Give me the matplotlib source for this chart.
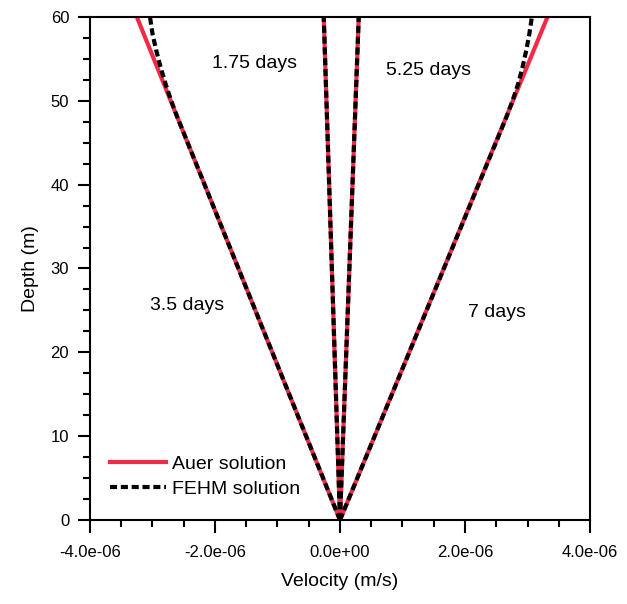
import matplotlib
matplotlib.use('Agg')
import matplotlib.pyplot as plt
from matplotlib.ticker import MultipleLocator, FormatStrFormatter
import numpy as np

plt.rcParams['font.family'] = ['Liberation Sans', 'DejaVu Sans']

# Auer analytical solution (velocity m/s vs depth m)
auer_depth = [0, 60]
auer_175 = [0, -0.26e-6]
auer_35 = [0, -3.25e-6]
auer_525 = [0, 0.30e-6]
auer_7 = [0, 3.32e-6]

# FEHM numerical solution
fehm_depth_in = [0, 60]
fehm_175 = [0, -0.26e-6]
fehm_525 = [0, 0.30e-6]
fehm_depth_out = [0, 48, 50, 52, 54, 56, 58, 60]
fehm_35 = [0, -2.60e-6, -2.70e-6, -2.79e-6, -2.87e-6, -2.94e-6, -3.00e-6, -3.04e-6]
fehm_7 = [0, 2.66e-6, 2.76e-6, 2.85e-6, 2.92e-6, 2.98e-6, 3.03e-6, 3.07e-6]

labels = ['1.75 days', '5.25 days', '3.5 days', '7 days']
label_x = [-1.36e-6, 1.41e-6, -2.45e-6, 2.51e-6]
label_y = [54.4, 53.6, 25.6, 24.8]

red = '#ef2b47'

fig = plt.figure(figsize=(6.27, 6.04), dpi=100)
ax = fig.add_axes([0.1435, 0.139, 0.7975, 0.833])

for v in (auer_175, auer_35, auer_525, auer_7):
  ax.plot(v, auer_depth, color=red, lw=3, zorder=1)
ax.plot([], [], color=red, lw=3, label='Auer solution')

dash = dict(color='black', lw=3, ls=(0, (1.7, 0.9)), zorder=2)
ax.plot(fehm_175, fehm_depth_in, **dash)
ax.plot(fehm_525, fehm_depth_in, **dash)
ax.plot(fehm_35, fehm_depth_out, **dash)
ax.plot(fehm_7, fehm_depth_out, label='FEHM solution', **dash)

for t, x, y in zip(labels, label_x, label_y):
  ax.text(x, y, t, ha='center', va='center', fontsize=14)

ax.set_xlim(-4e-6, 4e-6)
ax.set_ylim(0, 60)
ax.xaxis.set_major_locator(MultipleLocator(2e-6))
ax.xaxis.set_minor_locator(MultipleLocator(0.5e-6))
ax.yaxis.set_major_locator(MultipleLocator(10))
ax.yaxis.set_minor_locator(MultipleLocator(2.5))
ax.xaxis.set_major_formatter(FormatStrFormatter('%.1e'))
ax.tick_params(which='both', direction='out', width=1.5, top=False, right=False, labelsize=12)
ax.tick_params(which='major', length=9, pad=6)
ax.tick_params(axis='x', which='major', pad=9)
ax.tick_params(which='minor', length=5)
for s in ax.spines.values():
  s.set_linewidth(1.5)

ax.set_xlabel('Velocity (m/s)', fontsize=14, labelpad=9)
ax.set_ylabel('Depth (m)', fontsize=14, labelpad=8)

leg = ax.legend(loc='lower left', bbox_to_anchor=(0.005, 0.01), frameon=False, fontsize=14,
                handlelength=2.9, handletextpad=0.3, labelspacing=0.36)

fig.savefig('out.png', dpi=100)
